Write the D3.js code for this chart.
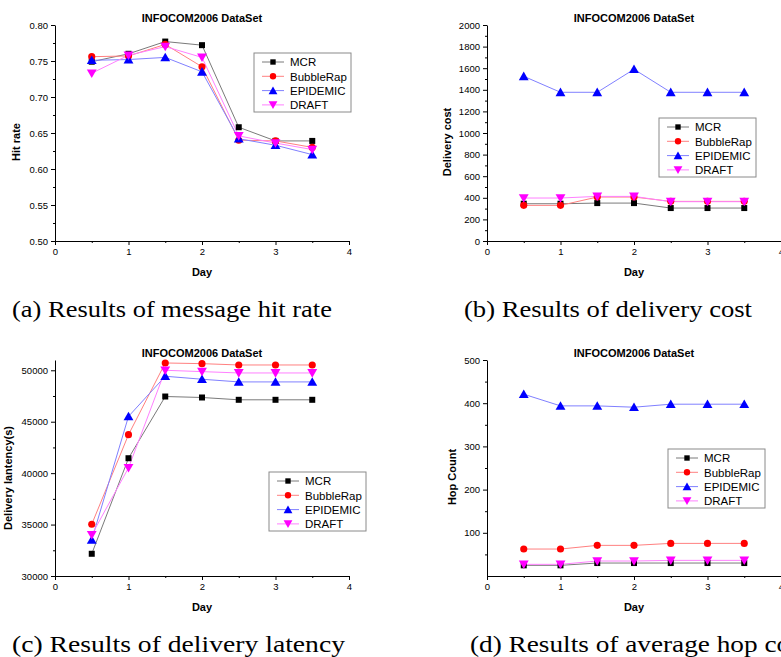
<!DOCTYPE html>
<html>
<head>
<meta charset="utf-8">
<script src="https://cdn.jsdelivr.net/npm/d3@7"></script>
<style>
  html, body { margin: 0; padding: 0; background: #fff; }
  svg { display: block; }
  .tick text { font-family: "Liberation Sans", Arial, sans-serif; }
</style>
</head>
<body>
<svg id="chart" width="781" height="657"></svg>
<script>
// ---------------- DATA ----------------
const days = [0.5, 1, 1.5, 2, 2.5, 3, 3.5];
const seriesNames = ["MCR", "BubbleRap", "EPIDEMIC", "DRAFT"];
const chartTitle = "INFOCOM2006 DataSet";
const xLabel = "Day";
const xTicks = [0, 1, 2, 3, 4];

// (a) hit rate
const hitRateMCR       = [0.749, 0.760, 0.777, 0.772, 0.658, 0.639, 0.639];
const hitRateBubbleRap = [0.756, 0.757, 0.773, 0.742, 0.640, 0.639, 0.630];
const hitRateEPIDEMIC  = [0.751, 0.752, 0.755, 0.735, 0.642, 0.633, 0.620];
const hitRateDRAFT     = [0.733, 0.758, 0.770, 0.755, 0.646, 0.636, 0.627];
const hitRateTicks = [0.50, 0.55, 0.60, 0.65, 0.70, 0.75, 0.80];

// (b) delivery cost
const costMCR       = [345, 345, 351, 351, 305, 305, 305];
const costBubbleRap = [330, 330, 407, 407, 367, 367, 367];
const costEPIDEMIC  = [1525, 1377, 1377, 1590, 1377, 1377, 1377];
const costDRAFT     = [398, 398, 413, 413, 364, 364, 364];
const costTicks = [0, 200, 400, 600, 800, 1000, 1200, 1400, 1600, 1800, 2000];

// (c) delivery latency
const latencyMCR       = [32160, 41450, 47450, 47355, 47130, 47130, 47130];
const latencyBubbleRap = [35030, 43740, 50710, 50645, 50516, 50516, 50516];
const latencyEPIDEMIC  = [33516, 45516, 49420, 49130, 48870, 48870, 48870];
const latencyDRAFT     = [34000, 40516, 50000, 49870, 49740, 49740, 49740];
const latencyTicks = [30000, 35000, 40000, 45000, 50000];

// (d) hop count
const hopMCR       = [24.7, 24.7, 30, 30, 30, 30, 30];
const hopBubbleRap = [62.4, 62.4, 70.9, 70.9, 75.5, 75.5, 75.5];
const hopEPIDEMIC  = [420.8, 393.8, 393.8, 390.7, 397.7, 397.7, 397.7];
const hopDRAFT     = [27, 27, 34.7, 34.7, 36.2, 36.2, 36.2];
const hopTicks = [100, 200, 300, 400, 500];

const captions = [
  "(a) Results of message hit rate",
  "(b) Results of delivery cost",
  "(c) Results of delivery latency",
  "(d) Results of average hop count"
];

// ---------------- STYLE ----------------
const colors = ["#000000", "#ff0000", "#0000ff", "#ff00ff"];
const lineColors = ["#7a7a7a", "#ff8080", "#8080ff", "#ff80ff"];
const symbols = [d3.symbolSquare, d3.symbolCircle, d3.symbolTriangle, d3.symbolTriangle];
const symbolSizes = [36, 40, 42, 42];
const symbolRot = [0, 0, 0, 180];

const svg = d3.select("#chart");
const sans = '"Liberation Sans", Arial, sans-serif';
const serif = '"Liberation Serif", "Times New Roman", serif';

function drawPanel(cfg) {
  const g = svg.append("g");
  const x = d3.scaleLinear().domain([0, 4]).range([cfg.x0, cfg.x0 + 294]);
  const y = d3.scaleLinear().domain(cfg.yDomain).range([cfg.yBottom, cfg.yTop]);

  // x axis
  const xAxis = d3.axisBottom(x).tickValues(xTicks).tickFormat(d3.format("d"))
    .tickSize(4).tickSizeOuter(0).tickPadding(3);
  g.append("g").attr("transform", `translate(0,${cfg.yBottom})`).call(xAxis);
  g.append("g").attr("transform", `translate(0,${cfg.yBottom})`)
    .call(d3.axisBottom(x).tickValues([0.5, 1.5, 2.5, 3.5]).tickSize(2).tickFormat(""))
    .select(".domain").remove();

  // y axis
  const yAxis = d3.axisLeft(y).tickValues(cfg.yTicks).tickFormat(cfg.yFormat)
    .tickSize(4).tickSizeOuter(0).tickPadding(3);
  g.append("g").attr("transform", `translate(${cfg.x0},0)`).call(yAxis);
  g.append("g").attr("transform", `translate(${cfg.x0},0)`)
    .call(d3.axisLeft(y).tickValues(cfg.yMinor).tickSize(2).tickFormat(""))
    .select(".domain").remove();

  g.selectAll(".tick text").attr("font-size", 9.5).attr("fill", "#000")
    .attr("font-family", sans);
  g.selectAll(".domain").attr("stroke", "#000").attr("stroke-width", 1);
  g.selectAll(".tick line").attr("stroke", "#000");

  // title
  g.append("text").attr("x", cfg.x0 + 147).attr("y", cfg.yTop - 3)
    .attr("text-anchor", "middle").attr("font-family", sans)
    .attr("font-weight", "bold").attr("font-size", 11).text(chartTitle);

  // x label
  g.append("text").attr("x", cfg.x0 + 147).attr("y", cfg.yBottom + 35)
    .attr("text-anchor", "middle").attr("font-family", sans)
    .attr("font-weight", "bold").attr("font-size", 11).text(xLabel);

  // y label
  g.append("text")
    .attr("transform", `translate(${cfg.ylabX},${cfg.ylabY}) rotate(-90)`)
    .attr("text-anchor", "middle").attr("font-family", sans)
    .attr("font-weight", "bold").attr("font-size", 11).text(cfg.yLabel);

  // series lines
  cfg.series.forEach((vals, i) => {
    const pts = days.map((d, k) => [d, vals[k]]);
    g.append("path").datum(pts)
      .attr("fill", "none").attr("stroke", lineColors[i]).attr("stroke-width", 1)
      .attr("d", d3.line().x(p => x(p[0])).y(p => y(p[1])));
  });
  // series markers
  cfg.series.forEach((vals, i) => {
    const pts = days.map((d, k) => [d, vals[k]]);
    g.selectAll(null).data(pts).enter().append("path")
      .attr("d", d3.symbol().type(symbols[i]).size(symbolSizes[i]))
      .attr("transform", p => `translate(${x(p[0])},${y(p[1]) + (i === 2 ? 1 : (i === 3 ? -1 : 0))}) rotate(${symbolRot[i]})`)
      .attr("fill", colors[i]);
  });

  // legend
  const lg = g.append("g").attr("transform", `translate(${cfg.legX},${cfg.legY})`);
  lg.append("rect").attr("x", 0).attr("y", 0).attr("width", 97).attr("height", 59)
    .attr("fill", "#fff").attr("stroke", "#8a8a8a").attr("stroke-width", 1);
  seriesNames.forEach((name, i) => {
    const ry = 9 + i * 14.3;
    lg.append("line").attr("x1", 8).attr("x2", 30).attr("y1", ry).attr("y2", ry)
      .attr("stroke", lineColors[i]).attr("stroke-width", 1);
    lg.append("path")
      .attr("d", d3.symbol().type(symbols[i]).size(symbolSizes[i] * 0.8))
      .attr("transform", `translate(19,${ry + (i === 2 ? 1 : (i === 3 ? -1 : 0))}) rotate(${symbolRot[i]})`)
      .attr("fill", colors[i]);
    lg.append("text").attr("x", 36).attr("y", ry + 4.2)
      .attr("font-family", sans).attr("font-size", 11.5).text(name);
  });

  // caption
  svg.append("text").attr("x", cfg.capX).attr("y", cfg.capY)
    .attr("font-family", serif).attr("font-size", 23)
    .attr("textLength", cfg.capW).attr("lengthAdjust", "spacingAndGlyphs")
    .text(cfg.caption);
}

drawPanel({
  x0: 55, yTop: 25, yBottom: 241, yDomain: [0.5, 0.8],
  yTicks: hitRateTicks, yMinor: d3.range(0.525, 0.8, 0.05), yFormat: d3.format(".2f"),
  yLabel: "Hit rate", ylabX: 20, ylabY: 142,
  series: [hitRateMCR, hitRateBubbleRap, hitRateEPIDEMIC, hitRateDRAFT],
  legX: 254, legY: 53, caption: captions[0], capX: 12, capY: 317, capW: 320
});
drawPanel({
  x0: 487, yTop: 25, yBottom: 241, yDomain: [0, 2000],
  yTicks: costTicks, yMinor: d3.range(100, 2000, 200), yFormat: d3.format("d"),
  yLabel: "Delivery cost", ylabX: 451, ylabY: 142,
  series: [costMCR, costBubbleRap, costEPIDEMIC, costDRAFT],
  legX: 659, legY: 118, caption: captions[1], capX: 464, capY: 317, capW: 288
});
drawPanel({
  x0: 55, yTop: 360, yBottom: 576, yDomain: [30000, 51000],
  yTicks: latencyTicks, yMinor: d3.range(32500, 51000, 5000), yFormat: d3.format("d"),
  yLabel: "Delivery lantency(s)", ylabX: 12, ylabY: 478,
  series: [latencyMCR, latencyBubbleRap, latencyEPIDEMIC, latencyDRAFT],
  legX: 269, legY: 472, caption: captions[2], capX: 12, capY: 652, capW: 333
});
drawPanel({
  x0: 487, yTop: 360, yBottom: 576, yDomain: [0, 500],
  yTicks: hopTicks, yMinor: d3.range(50, 500, 100), yFormat: d3.format("d"),
  yLabel: "Hop Count", ylabX: 456, ylabY: 477,
  series: [hopMCR, hopBubbleRap, hopEPIDEMIC, hopDRAFT],
  legX: 668, legY: 449, caption: captions[3], capX: 470, capY: 652, capW: 355
});
</script>
</body>
</html>
